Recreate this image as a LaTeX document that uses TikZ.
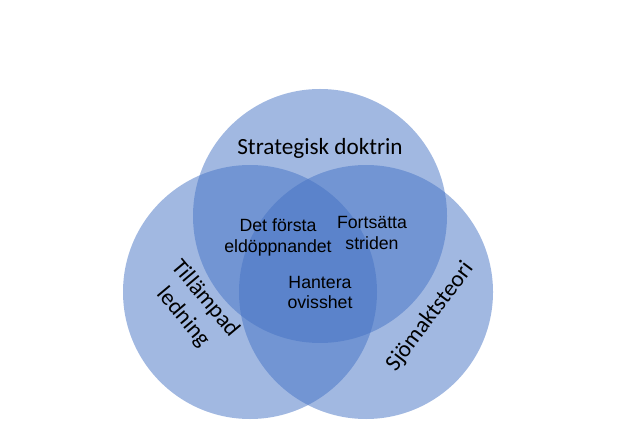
\documentclass[tikz,border=0pt]{standalone}
\usepackage{fontspec}
\setmainfont{Liberation Sans}
\newfontfamily\calibri{Carlito}
\usepackage{xcolor}
\usetikzlibrary{positioning}
\definecolor{vennblue}{RGB}{68,114,196}

\begin{document}
\begin{tikzpicture}
        \useasboundingbox (0,0) rectangle (16,10.65);

        % Circles
        \tikzset{venn/.style={circle, inner sep=0pt, minimum size=6.35cm, fill=vennblue, fill opacity=0.5}}
        \node[venn] (doctrine) at (8,5.25) {};
        \node[venn] (command) at (6.25,3.35) {};
        \node[venn] (seapower) at (9.15,3.35) {};

        % Circle labels
        \node[font=\calibri\fontsize{16.5}{20.5}\selectfont] (doctrinelbl) at (8,6.95) {Strategisk doktrin};
        \node[font=\calibri\fontsize{16.5}{20.5}\selectfont, rotate=-50, align=center] (commandlbl) at (4.85,2.95) {Tillämpad\\ledning};
        \node[font=\calibri\fontsize{16.5}{20.5}\selectfont, rotate=53] (seapowerlbl) at (10.75,2.73) {Sjömaktsteori};

        % Overlaps
        \node[font=\fontsize{12.6}{14.8}\selectfont, align=center] (first) at (6.95,4.72) {Det första\\eldöppnandet};
        \node[font=\fontsize{12.6}{14.8}\selectfont, align=center] (continue) at (9.3,4.82) {Fortsätta\\striden};
        \node[font=\fontsize{12.6}{14.8}\selectfont, align=center] (uncertainty) at (8.0,3.34) {Hantera\\ovisshet};
    \end{tikzpicture}
\end{document}
